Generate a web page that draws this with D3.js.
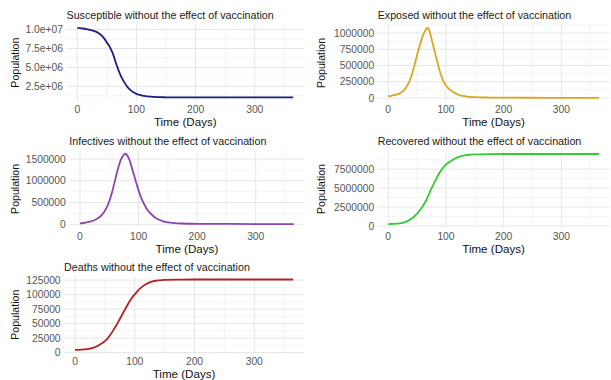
<!DOCTYPE html>
<html>
<head>
<meta charset="utf-8">
<script src="https://cdn.jsdelivr.net/npm/d3@7"></script>
<style>
  html, body { margin: 0; padding: 0; background: #ffffff; }
  svg { display: block; font-family: "Liberation Sans", Arial, sans-serif; }
</style>
</head>
<body>
<div id="chart"></div>
<script>
// ---------------- DATA ----------------
const days = [0, 5, 10, 15, 20, 25, 30, 35, 40, 45, 50, 55, 60, 65, 68, 70, 75, 77, 80, 85, 90, 95,
  100, 105, 110, 115, 120, 125, 130, 135, 140, 145, 150, 175, 200, 250, 300, 365];

const susceptible = [10.22e6, 10.20e6, 10.15e6, 10.08e6, 10.00e6, 9.91e6, 9.78e6, 9.60e6, 9.30e6, 8.88e6,
  8.30e6, 7.68e6, 6.85e6, 5.65e6, 5.00e6, 4.55e6, 3.65e6, 3.36e6, 2.95e6, 2.40e6, 2.00e6, 1.70e6,
  1.50e6, 1.37e6, 1.28e6, 1.21e6, 1.16e6, 1.12e6, 1.09e6, 1.075e6, 1.06e6, 1.05e6, 1.045e6, 1.042e6, 1.04e6, 1.04e6, 1.04e6, 1.04e6];

const exposed = [26e3, 33e3, 42e3, 54e3, 70e3, 100e3, 150e3, 225e3, 335e3, 490e3,
  660e3, 820e3, 960e3, 1050e3, 1077e3, 1066e3, 910e3, 840e3, 730e3, 560e3, 390e3, 268e3,
  190e3, 140e3, 105e3, 78e3, 56e3, 41e3, 30e3, 23e3, 18e3, 14e3, 11e3, 6e3, 4e3, 3e3, 2e3, 2e3];

const infectives = [23e3, 30e3, 40e3, 53e3, 72e3, 100e3, 135e3, 185e3, 260e3, 370e3,
  530e3, 750e3, 1020e3, 1290e3, 1415e3, 1490e3, 1598e3, 1622e3, 1595e3, 1460e3, 1230e3, 1000e3,
  780e3, 590e3, 450e3, 335e3, 255e3, 190e3, 140e3, 105e3, 78e3, 58e3, 44e3, 18e3, 12e3, 8e3, 6e3, 5e3];

const recovered = [0.25e6, 0.26e6, 0.28e6, 0.30e6, 0.34e6, 0.42e6, 0.55e6, 0.72e6, 0.95e6, 1.25e6,
  1.62e6, 2.10e6, 2.65e6, 3.30e6, 3.78e6, 4.10e6, 4.95e6, 5.27e6, 5.75e6, 6.50e6, 7.15e6, 7.70e6,
  8.10e6, 8.40e6, 8.65e6, 8.88e6, 9.05e6, 9.18e6, 9.28e6, 9.35e6, 9.40e6, 9.43e6, 9.45e6, 9.49e6, 9.50e6, 9.50e6, 9.50e6, 9.50e6];

const deaths = [4.6e3, 4.8e3, 5.1e3, 5.5e3, 6.1e3, 7.0e3, 8.3e3, 10.2e3, 12.8e3, 16.0e3,
  19.8e3, 25.0e3, 32.0e3, 40.0e3, 45.0e3, 48.5e3, 58.0e3, 61.8e3, 67.5e3, 77.0e3, 86.0e3, 94.0e3,
  100.5e3, 106.5e3, 111.5e3, 115.5e3, 118.8e3, 121.2e3, 122.8e3, 123.9e3, 124.6e3, 125.1e3, 125.4e3, 125.8e3, 126e3, 126e3, 126e3, 126e3];

const titles = [
  "Susceptible without the effect of vaccination",
  "Exposed without the effect of vaccination",
  "Infectives without the effect of vaccination",
  "Recovered without the effect of vaccination",
  "Deaths without the effect of vaccination"
];

const xTicks = [0, 100, 200, 300];
const xTickLabels = ["0", "100", "200", "300"];

const yTicksS = [2.5e6, 5e6, 7.5e6, 1e7];
const yLabelsS = ["2.5e+06", "5.0e+06", "7.5e+06", "1.0e+07"];
const yTicksE = [0, 250000, 500000, 750000, 1000000];
const yLabelsE = ["0", "250000", "500000", "750000", "1000000"];
const yTicksI = [0, 500000, 1000000, 1500000];
const yLabelsI = ["0", "500000", "1000000", "1500000"];
const yTicksR = [0, 2500000, 5000000, 7500000];
const yLabelsR = ["0", "2500000", "5000000", "7500000"];
const yTicksD = [0, 25000, 50000, 75000, 100000, 125000];
const yLabelsD = ["0", "25000", "50000", "75000", "100000", "125000"];

const xTitle = "Time (Days)";
const yTitle = "Population";

// ---------------- LAYOUT / STYLE ----------------
const W = 611, H = 380;
const colors = ["#1c1c84", "#DAA520", "#8E44AD", "#32CD32", "#B22222"];
const seriesList = [susceptible, exposed, infectives, recovered, deaths];
const yTickSets = [yTicksS, yTicksE, yTicksI, yTicksR, yTicksD];
const yLabelSets = [yLabelsS, yLabelsE, yLabelsI, yLabelsR, yLabelsD];
// plot-panel rectangles (xl: tick-label baseline offset, xt: axis-title baseline offset)
const rects = [
  { l: 66.5, r: 304, t: 24.5, b: 100.8, yt: 15, xl: 12, xt: 25 },
  { l: 377.7, r: 609.5, t: 24.5, b: 101.3, yt: 321.5, xl: 12, xt: 25 },
  { l: 69.3, r: 304.5, t: 150.2, b: 227.6, yt: 15, xl: 12, xt: 25 },
  { l: 377.7, r: 609.5, t: 150.5, b: 227.6, yt: 321.5, xl: 12, xt: 25 },
  { l: 64.1, r: 304, t: 276.0, b: 353.5, yt: 15, xl: 11.4, xt: 24.4 }
];

const svg = d3.select("#chart").append("svg")
  .attr("width", W).attr("height", H)
  .attr("viewBox", `0 0 ${W} ${H}`);
svg.append("rect").attr("width", W).attr("height", H).attr("fill", "#fff");

function expand(ext) {
  const pad = (ext[1] - ext[0]) * 0.05;
  return [ext[0] - pad, ext[1] + pad];
}

seriesList.forEach((vals, i) => {
  const R = rects[i];
  const g = svg.append("g");
  const x = d3.scaleLinear().domain(expand(d3.extent(days))).range([R.l, R.r]);
  const y = d3.scaleLinear().domain(expand(d3.extent(vals))).range([R.b, R.t]);

  const yt = yTickSets[i];
  const step = yt[1] - yt[0];
  const yDom = y.domain();
  // minor grid
  const yMinor = [];
  for (let v = yt[0] - step / 2; v <= yt[yt.length - 1] + step / 2 + 1e-9; v += step) {
    if (v >= yDom[0] && v <= yDom[1]) yMinor.push(v);
  }
  const xDom = x.domain();
  const xMinor = [];
  for (let v = xTicks[0] - 50; v <= xTicks[xTicks.length - 1] + 50; v += 100) {
    if (v >= xDom[0] && v <= xDom[1]) xMinor.push(v);
  }
  g.selectAll(".ymin").data(yMinor).join("line")
    .attr("x1", R.l).attr("x2", R.r)
    .attr("y1", d => y(d)).attr("y2", d => y(d))
    .attr("stroke", "#efefef").attr("stroke-width", 0.6);
  g.selectAll(".xmin").data(xMinor).join("line")
    .attr("y1", R.t).attr("y2", R.b)
    .attr("x1", d => x(d)).attr("x2", d => x(d))
    .attr("stroke", "#efefef").attr("stroke-width", 0.6);
  g.selectAll(".ymaj").data(yt.filter(v => v >= yDom[0] && v <= yDom[1])).join("line")
    .attr("x1", R.l).attr("x2", R.r)
    .attr("y1", d => y(d)).attr("y2", d => y(d))
    .attr("stroke", "#e5e5e5").attr("stroke-width", 1);
  g.selectAll(".xmaj").data(xTicks).join("line")
    .attr("y1", R.t).attr("y2", R.b)
    .attr("x1", d => x(d)).attr("x2", d => x(d))
    .attr("stroke", "#e5e5e5").attr("stroke-width", 1);

  // y tick labels
  const labs = yLabelSets[i];
  g.selectAll(".ylab").data(yt).join("text")
    .attr("x", R.l - 3.5).attr("y", d => y(d))
    .attr("dy", "0.35em")
    .attr("text-anchor", "end")
    .attr("font-size", 10.3).attr("fill", "#555")
    .text((d, k) => labs[k]);
  // x tick labels
  g.selectAll(".xlab").data(xTicks).join("text")
    .attr("x", d => x(d)).attr("y", R.b + R.xl)
    .attr("text-anchor", "middle")
    .attr("font-size", 10.3).attr("fill", "#555")
    .text((d, k) => xTickLabels[k]);

  // line
  const line = d3.line().x((d, k) => x(days[k])).y(d => y(d)).curve(d3.curveMonotoneX);
  g.append("path").datum(vals).attr("d", line)
    .attr("fill", "none").attr("stroke", colors[i]).attr("stroke-width", 1.8)
    .attr("stroke-linejoin", "round");

  // titles
  g.append("text").attr("x", R.l).attr("y", R.t - 5.5)
    .attr("font-size", 10.7).attr("fill", "#1a1a1a").text(titles[i]);
  g.append("text").attr("x", (R.l + R.r) / 2).attr("y", R.b + R.xt)
    .attr("text-anchor", "middle").attr("font-size", 11.6).attr("fill", "#111").text(xTitle);
  g.append("text")
    .attr("transform", `translate(${R.yt},${(R.t + R.b) / 2}) rotate(-90)`)
    .attr("text-anchor", "middle").attr("dy", "0.35em")
    .attr("font-size", 10.6).attr("fill", "#111").text(yTitle);
});
</script>
</body>
</html>
